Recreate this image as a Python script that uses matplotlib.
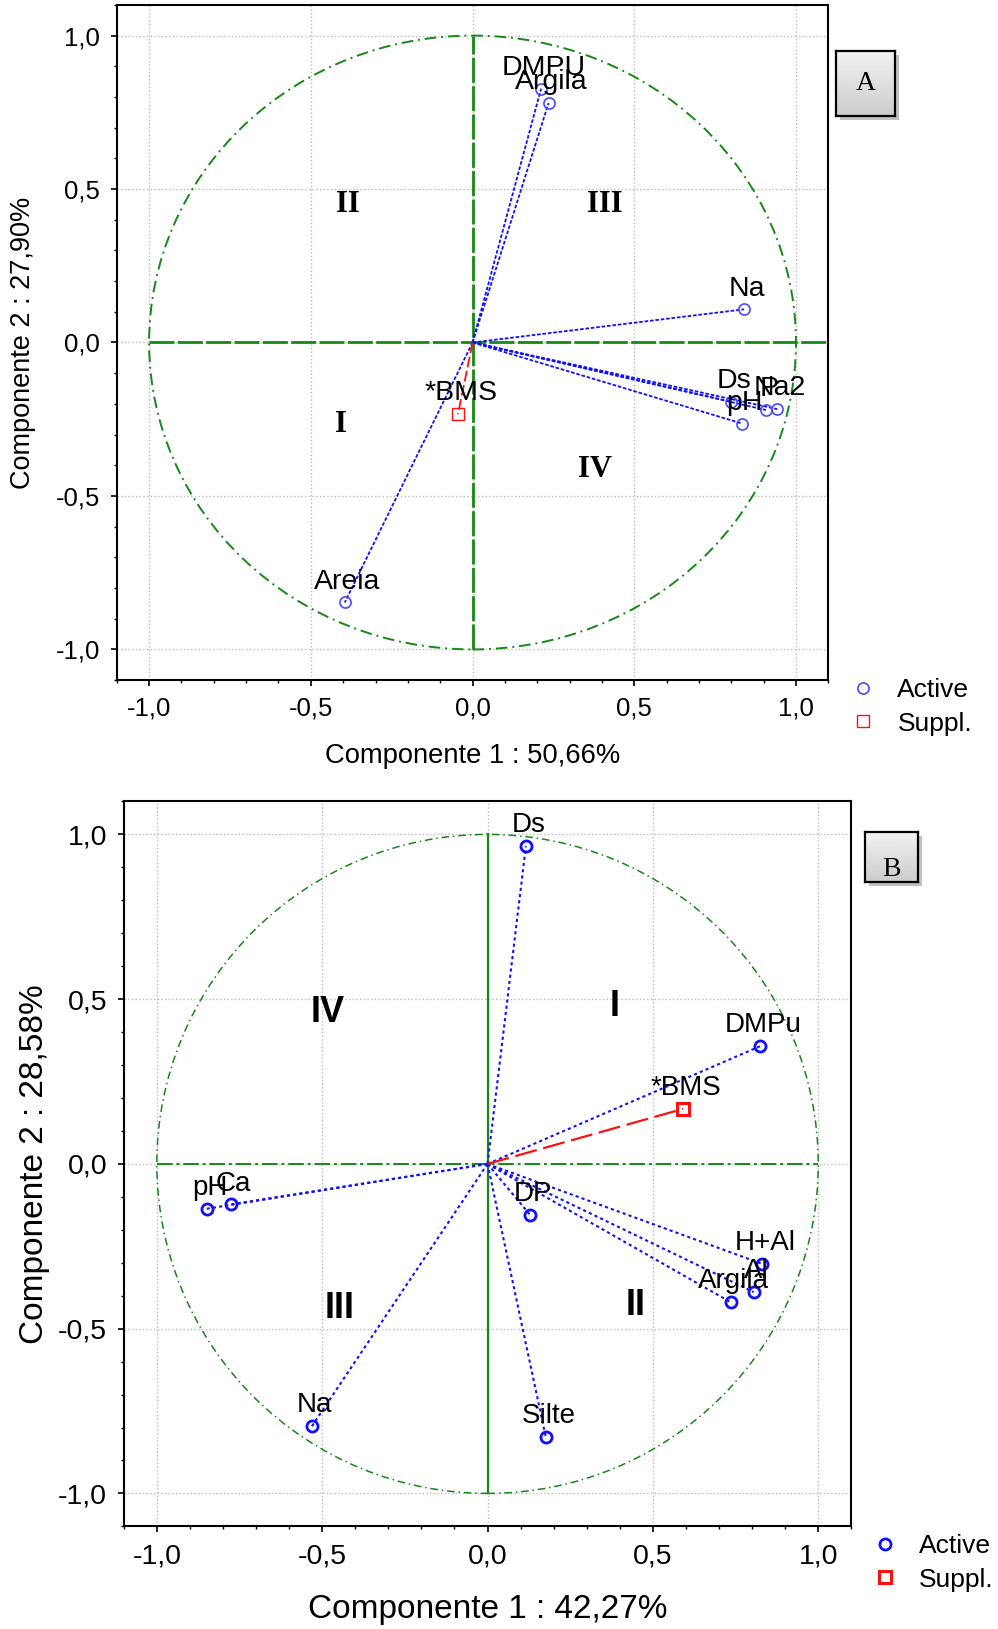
import numpy as np
import matplotlib
matplotlib.use("Agg")
import matplotlib.pyplot as plt
from matplotlib.patches import Circle, Rectangle
from matplotlib.ticker import FixedLocator, FixedFormatter, MultipleLocator

plt.rcParams['font.family'] = ['Liberation Sans', 'DejaVu Sans']

# --- Painel A ---
a_vars = ["DMPU", "Argila", "Na", "Ds", "P", "pH", "Na2", "Areia"]
a_x = [0.212, 0.235, 0.839, 0.800, 0.907, 0.833, 0.942, -0.395]
a_y = [0.827, 0.780, 0.108, -0.193, -0.220, -0.264, -0.217, -0.847]
a_sup = ["*BMS"]
a_sup_x = [-0.045]
a_sup_y = [-0.234]
a_quad = ["II", "III", "I", "IV"]
a_quad_x = [-0.386, 0.408, -0.408, 0.379]
a_quad_y = [0.451, 0.451, -0.268, -0.414]
a_xlabel = "Componente 1 : 50,66%"
a_ylabel = "Componente 2 : 27,90%"

# --- Painel B ---
b_vars = ["Ds", "DMPu", "pH", "Ca", "DP", "H+Al", "Al", "Argila", "Na", "Silte"]
b_x = [0.116, 0.824, -0.849, -0.777, 0.129, 0.830, 0.805, 0.736, -0.531, 0.176]
b_y = [0.964, 0.357, -0.136, -0.123, -0.155, -0.303, -0.389, -0.420, -0.796, -0.828]
b_sup = ["*BMS"]
b_sup_x = [0.591]
b_sup_y = [0.167]
b_quad = ["IV", "I", "III", "II"]
b_quad_x = [-0.484, 0.384, -0.447, 0.447]
b_quad_y = [0.461, 0.477, -0.439, -0.430]
b_xlabel = "Componente 1 : 42,27%"
b_ylabel = "Componente 2 : 28,58%"

ticks = [-1.0, -0.5, 0.0, 0.5, 1.0]
tick_labels = ["-1,0", "-0,5", "0,0", "0,5", "1,0"]

GREEN = "#138a13"
BLUE = "#1010ff"
RED = "#ff1010"

fig = plt.figure(figsize=(9.98, 16.29), dpi=100)


def base_axes(ax, tick_size):
    ax.set_xlim(-1.1, 1.1)
    ax.set_ylim(-1.1, 1.1)
    for axis in (ax.xaxis, ax.yaxis):
        axis.set_major_locator(FixedLocator(ticks))
        axis.set_major_formatter(FixedFormatter(tick_labels))
        axis.set_minor_locator(MultipleLocator(0.1))
    ax.grid(True, which="major", color="#bbbbbb", ls=":", lw=1)
    ax.tick_params(which="major", direction="out", length=4, width=1.2,
                   labelsize=tick_size, pad=8)
    ax.tick_params(which="minor", direction="out", length=2.5, width=1)
    for s in ax.spines.values():
        s.set_linewidth(1.5)
    ax.set_axisbelow(True)


def label_box(rect, letter, yy=0.5):
    x0, y0, w, h = rect
    sh = Rectangle((x0 + 0.004, y0 - 0.0025), w, h, transform=fig.transFigure,
                   facecolor="#9a9a9a", edgecolor="none", alpha=0.6, zorder=1)
    fig.patches.append(sh)
    bx = fig.add_axes(rect, zorder=2)
    grad = np.linspace(0.95, 0.80, 50).reshape(-1, 1)
    bx.imshow(grad, cmap="gray", vmin=0, vmax=1, aspect="auto",
              extent=(0, 1, 0, 1))
    bx.set_xticks([])
    bx.set_yticks([])
    for s in bx.spines.values():
        s.set_linewidth(1.6)
    bx.text(0.5, yy, letter, ha="center", va="center", fontsize=20,
            family=["Liberation Serif", "DejaVu Serif"], clip_on=True)


# ---------------- Painel A ----------------
ax = fig.add_axes([0.117, 0.5825, 0.713, 0.4145])
base_axes(ax, 18.5)
ax.add_patch(Circle((0, 0), 1.0, fill=False, ec=GREEN, lw=1.4,
                    ls=(0, (6, 2.5, 1, 2.5)), zorder=2))
ax.plot([0, 0], [-1, 1], color=GREEN, lw=2, ls=(0, (9, 1.2)), zorder=2)
ax.plot([-1, 1.1], [0, 0], color=GREEN, lw=2, ls=(0, (9, 1.2)), zorder=2)
for x, y in zip(a_x, a_y):
    ax.plot([0, x], [0, y], color=BLUE, lw=1.3, ls=(0, (2, 1)), zorder=3)
for x, y in zip(a_sup_x, a_sup_y):
    ax.plot([0, x], [0, y], color=RED, lw=1.3, ls=(0, (6, 2)), zorder=3)
pa = ax.plot(a_x, a_y, "o", ls="none", mfc="none", mec="#4a4aff", ms=8,
             mew=1.2, zorder=4, label="Active")[0]
ps = ax.plot(a_sup_x, a_sup_y, "s", ls="none", mfc="none", mec=RED, ms=8,
             mew=1.0, zorder=4, label="Suppl.")[0]
for name, x, y in zip(a_vars + a_sup, a_x + a_sup_x, a_y + a_sup_y):
    ax.annotate(name, (x, y), xytext=(2, 15), textcoords="offset points",
                ha="center", va="center", fontsize=20.5, zorder=5)
for q, x, y in zip(a_quad, a_quad_x, a_quad_y):
    ax.text(x, y, q, ha="center", va="center", fontsize=22, fontweight="bold",
            family=["Liberation Serif", "DejaVu Serif"])
ax.set_xlabel(a_xlabel, fontsize=19.7, labelpad=16)
ax.set_ylabel(a_ylabel, fontsize=19.5, labelpad=14)
fig.legend([pa, ps], ["Active", "Suppl."], loc="upper left",
           bbox_to_anchor=(0.841, 0.590), frameon=False, fontsize=19,
           handlelength=1.0, handletextpad=0.8, labelspacing=0.35,
           borderaxespad=0)
label_box([0.838, 0.9288, 0.059, 0.0399], "A")

# ---------------- Painel B ----------------
bx_ = fig.add_axes([0.124, 0.063, 0.729, 0.445])
base_axes(bx_, 20.5)
bx_.add_patch(Circle((0, 0), 1.0, fill=False, ec=GREEN, lw=1.1,
                     ls=(0, (5, 2.5, 1, 2.5)), zorder=2))
bx_.plot([0, 0], [-1, 1], color=GREEN, lw=1.6, ls="-", zorder=2)
bx_.plot([-1, 1], [0, 0], color=GREEN, lw=1.4, ls=(0, (8, 2, 1.5, 2)), zorder=2)
for x, y in zip(b_x, b_y):
    bx_.plot([0, x], [0, y], color=BLUE, lw=1.5, ls=(0, (1.5, 1.5)), zorder=3)
for x, y in zip(b_sup_x, b_sup_y):
    bx_.plot([0, x], [0, y], color=RED, lw=1.6, ls=(0, (10, 3)), zorder=3)
qa = bx_.plot(b_x, b_y, "o", ls="none", mfc="none", mec=BLUE, ms=8,
              mew=2.0, zorder=4, label="Active")[0]
qs = bx_.plot(b_sup_x, b_sup_y, "s", ls="none", mfc="none", mec=RED, ms=8,
              mew=2.2, zorder=4, label="Suppl.")[0]
for name, x, y in zip(b_vars + b_sup, b_x + b_sup_x, b_y + b_sup_y):
    bx_.annotate(name, (x, y), xytext=(2, 15), textcoords="offset points",
                 ha="center", va="center", fontsize=20, zorder=5)
for q, x, y in zip(b_quad, b_quad_x, b_quad_y):
    bx_.text(x, y, q, ha="center", va="center", fontsize=26, fontweight="bold")
bx_.set_xlabel(b_xlabel, fontsize=24, labelpad=18)
bx_.set_ylabel(b_ylabel, fontsize=24, labelpad=6)
fig.legend([qa, qs], ["Active", "Suppl."], loc="upper left",
           bbox_to_anchor=(0.863, 0.0645), frameon=False, fontsize=19,
           handlelength=1.0, handletextpad=0.8, labelspacing=0.35,
           borderaxespad=0)
label_box([0.867, 0.4586, 0.053, 0.0307], "B", yy=0.25)

fig.savefig("out.png", dpi=100)
